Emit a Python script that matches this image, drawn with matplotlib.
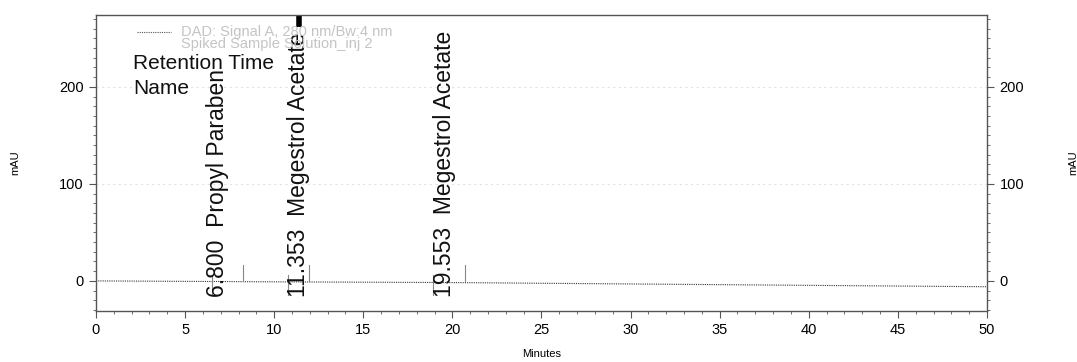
import matplotlib
matplotlib.use("Agg")
import matplotlib.pyplot as plt
from matplotlib.ticker import MultipleLocator

plt.rcParams['font.family'] = ['Liberation Sans', 'DejaVu Sans']

# baseline of the trace (minutes, mAU)
times = [0, 6.5, 6.8, 8.2, 10.75, 11.353, 11.9, 18.9, 19.553, 20.6, 50]
signal = [0, -0.6, -0.6, -0.8, -1.0, -1.0, -1.1, -1.6, -1.7, -1.8, -6]

# peak table
ret_times = [6.800, 11.353, 19.553]
names = ["Propyl Paraben", "Megestrol Acetate", "Megestrol Acetate"]
peak_start = [6.5, 10.75, 18.9]
peak_end = [8.25, 11.95, 20.7]

fig = plt.figure(figsize=(10.77, 3.62), dpi=100)
ax = fig.add_axes([0.0891, 0.1409, 0.8273, 0.8177])
ax.set_xlim(0, 50)
ax.set_ylim(-31, 274)

axc = '#555555'
for s in ax.spines.values():
    s.set_color(axc)
    s.set_linewidth(1.0)

# faint grid lines
for g in [100, 200]:
    ax.axhline(g, color='#e2e2e2', lw=0.8, ls=(0, (2, 3)), zorder=0)

# trace
ax.plot(times, signal, color='#333333', lw=0.8, ls=(0, (1, 1)))

# off-scale peak top
ax.plot([11.4, 11.4], [262, 274], color='black', lw=4, solid_capstyle='butt', clip_on=False)

# peak start / end marks
for s0, e0 in zip(peak_start, peak_end):
    ax.plot([s0, s0], [6, -15], color='#888888', lw=0.8)
    ax.plot([e0, e0], [16, 0], color='#888888', lw=0.8)

# labels
for rt, nm in zip(ret_times, names):
    ax.text(rt, -17, f"{rt:.3f}  {nm}", rotation=90, ha='center', va='bottom',
            fontsize=16.5, color='#111111')

# header
ax.plot([2.3, 4.2], [256, 256], color='#555555', lw=0.8, ls=(0, (1, 1)))
ax.text(4.8, 256, "DAD: Signal A, 280 nm/Bw:4 nm", fontsize=10.5, color='#c4c4c4', va='center')
ax.text(4.8, 244, "Spiked Sample Solution_inj 2", fontsize=10.5, color='#c4c4c4', va='center')
ax.text(2.1, 224, "Retention Time", fontsize=15, color='#111111', va='center')
ax.text(2.1, 198, "Name", fontsize=15, color='#111111', va='center')

ax.xaxis.set_major_locator(MultipleLocator(5))
ax.xaxis.set_minor_locator(MultipleLocator(1))
ax.yaxis.set_major_locator(MultipleLocator(100))
ax.yaxis.set_minor_locator(MultipleLocator(10))
ax.tick_params(axis='both', which='major', labelsize=10.5, length=5, color=axc, pad=4)
ax.tick_params(axis='both', which='minor', length=2.5, color=axc)
ax.set_xlabel("Minutes", fontsize=8, labelpad=8)
ax.set_ylabel("mAU", fontsize=8, labelpad=28)

ax2 = ax.twinx()
ax2.set_ylim(ax.get_ylim())
ax2.yaxis.set_major_locator(MultipleLocator(100))
ax2.yaxis.set_minor_locator(MultipleLocator(10))
ax2.tick_params(axis='y', which='major', labelsize=10.5, length=5, color=axc, pad=4)
ax2.tick_params(axis='y', which='minor', length=2.5, color=axc)
for s in ax2.spines.values():
    s.set_visible(False)
ax2.set_ylabel("mAU", fontsize=8, labelpad=32)

fig.savefig("out.png", dpi=100)
